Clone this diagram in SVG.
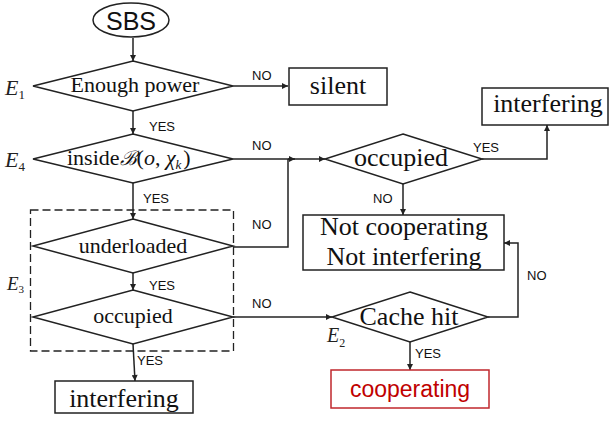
<svg xmlns="http://www.w3.org/2000/svg" width="610" height="426" viewBox="0 0 610 426">
<style>
.s{fill:#fff;stroke:#222;stroke-width:1.5}
.l{fill:none;stroke:#222;stroke-width:1.5}
.t{font-family:"Liberation Serif",serif;fill:#111;text-anchor:middle}
.lb{font-family:"Liberation Sans",sans-serif;font-size:13px;fill:#111}
.e{font-family:"Liberation Serif",serif;font-style:italic;fill:#222}
</style>
<defs>
<marker id="a" viewBox="0 0 10 10" refX="10" refY="5" markerWidth="7" markerHeight="6" markerUnits="userSpaceOnUse" orient="auto">
<path d="M0,0L10,5L0,10z" fill="#222"/>
</marker>
</defs>
<g id="connectors">
<path class="l" d="M133,38V61" marker-end="url(#a)"/>
<path class="l" d="M233,86H288" marker-end="url(#a)"/>
<path class="l" d="M133,111V134" marker-end="url(#a)"/>
<path class="l" d="M233,159H295" marker-end="url(#a)"/>
<path class="l" d="M288,159H325" marker-end="url(#a)"/>
<path class="l" d="M233,247H288V159"/>
<path class="l" d="M482,159H547V125" marker-end="url(#a)"/>
<path class="l" d="M403,184V215" marker-end="url(#a)"/>
<path class="l" d="M133,183V219" marker-end="url(#a)"/>
<path class="l" d="M133,273V290" marker-end="url(#a)"/>
<path class="l" d="M133,344L135,381" marker-end="url(#a)"/>
<path class="l" d="M233,317H332" marker-end="url(#a)"/>
<path class="l" d="M488,317H518V243H504" marker-end="url(#a)"/>
<path class="l" d="M410,342V370" marker-end="url(#a)"/>
<rect x="30.5" y="210" width="203" height="141" fill="none" stroke="#222" stroke-width="1.3" stroke-dasharray="8,4"/>
<text class="lb" x="252" y="80">NO</text>
<text class="lb" x="149" y="131">YES</text>
<text class="lb" x="252" y="150">NO</text>
<text class="lb" x="143" y="203">YES</text>
<text class="lb" x="252" y="229">NO</text>
<text class="lb" x="149" y="290">YES</text>
<text class="lb" x="252" y="308">NO</text>
<text class="lb" x="137" y="365">YES</text>
<text class="lb" x="473" y="152">YES</text>
<text class="lb" x="373" y="203">NO</text>
<text class="lb" x="527" y="280">NO</text>
<text class="lb" x="415" y="358">YES</text>
</g>
<g id="sbs">
<ellipse class="s" cx="131" cy="20" rx="38" ry="17"/>
<text x="131" y="30" font-family="Liberation Sans,sans-serif" font-size="25" text-anchor="middle" fill="#111">SBS</text>
</g>
<g id="e1">
<polygon class="s" points="133,61 233,86 133,111 33,86"/>
<text class="t" x="135" y="92" font-size="22">Enough power</text>
<text class="e" x="5" y="95" font-size="22">E<tspan font-size="13" font-style="normal" dy="4">1</tspan></text>
</g>
<g id="silent">
<rect class="s" x="289" y="68" width="98" height="37"/>
<text class="t" x="338" y="94" font-size="26">silent</text>
</g>
<g id="e4">
<polygon class="s" points="133,134 233,159 133,183 33,159"/>
<text x="67" y="165" font-family="Liberation Serif,serif" font-size="22" fill="#111">inside<tspan font-style="italic" font-family="DejaVu Serif,serif" font-size="20">ℬ</tspan>(<tspan font-style="italic">o</tspan>, <tspan font-style="italic">χ</tspan><tspan font-style="italic" font-size="13" dy="4">k</tspan><tspan dy="-4" dx="2">)</tspan></text>
<text class="e" x="5" y="167" font-size="22">E<tspan font-size="13" font-style="normal" dy="4">4</tspan></text>
</g>
<g id="occ1">
<polygon class="s" points="403,134 482,159 403,184 325,159"/>
<text class="t" x="401" y="166" font-size="26">occupied</text>
</g>
<g id="interf1">
<rect class="s" x="482" y="88" width="126" height="37"/>
<text class="t" x="548" y="112" font-size="26">interfering</text>
</g>
<g id="notcoop">
<rect class="s" x="303" y="215" width="201" height="55"/>
<text class="t" x="404" y="235" font-size="26">Not cooperating</text>
<text class="t" x="404" y="265" font-size="26">Not interfering</text>
</g>
<g id="under">
<polygon class="s" points="133,219 233,246 133,273 33,246"/>
<text class="t" x="133" y="253" font-size="22">underloaded</text>
</g>
<g id="occ2">
<polygon class="s" points="133,290 233,317 133,344 33,317"/>
<text class="t" x="133" y="323" font-size="22">occupied</text>
<text class="e" x="7" y="290" font-size="19">E<tspan font-size="11" font-style="normal" dy="3">3</tspan></text>
</g>
<g id="interf2">
<rect class="s" x="55" y="381" width="138" height="32"/>
<text class="t" x="124" y="407" font-size="26">interfering</text>
</g>
<g id="cache">
<polygon class="s" points="410,292 488,317 410,342 332,317"/>
<text class="t" x="409" y="325" font-size="26">Cache hit</text>
<text class="e" x="327" y="342" font-size="20">E<tspan font-size="12" font-style="normal" dy="5">2</tspan></text>
</g>
<g id="coop">
<rect x="331" y="370" width="158" height="38" fill="#fff" stroke="#c0272d" stroke-width="1.5"/>
<text x="410" y="397" font-family="Liberation Sans,sans-serif" font-size="23" text-anchor="middle" fill="#c00000">cooperating</text>
</g>
</svg>
